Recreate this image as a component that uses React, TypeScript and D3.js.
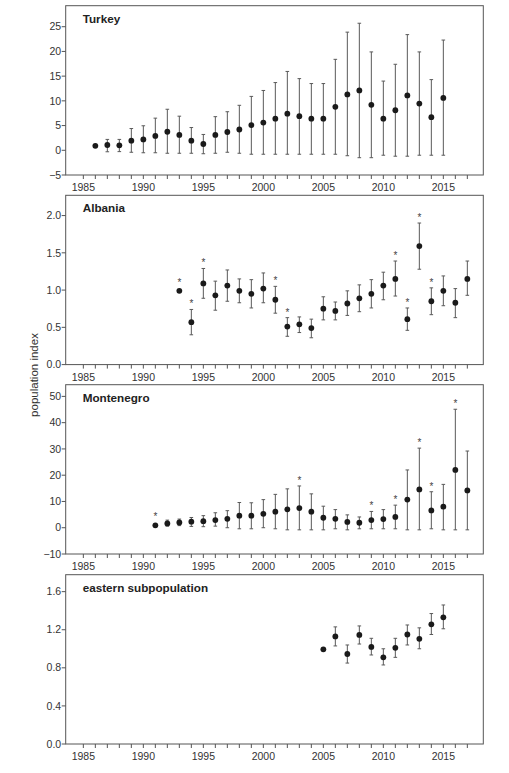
import React from "react";
import * as d3 from "d3";

// ---------- DATA ----------
const turkeyYears = [1986,1987,1988,1989,1990,1991,1992,1993,1994,1995,1996,1997,1998,1999,2000,2001,2002,2003,2004,2005,2006,2007,2008,2009,2010,2011,2012,2013,2014,2015];
const turkeyValues = [0.9,1.07,1.0,1.94,2.2,2.9,3.75,3.1,1.94,1.27,3.1,3.7,4.2,5.1,5.6,6.4,7.4,6.9,6.4,6.4,8.8,11.3,12.1,9.2,6.4,8.1,11.1,9.45,6.7,10.6];
const turkeyUpper = [null,2.2,2.2,4.4,4.96,6.5,8.3,6.9,4.6,3.2,6.8,7.8,9.1,10.9,12.1,13.7,15.95,14.5,13.5,13.5,18.4,23.9,25.7,19.9,14.0,17.4,23.4,19.9,14.3,22.3];
const turkeyLower = [null,-0.3,-0.27,-0.4,-0.5,-0.5,-0.6,-0.6,-0.6,-0.7,-0.6,-0.4,-0.6,-0.8,-0.8,-0.8,-0.8,-0.8,-0.8,-0.8,-0.8,-1.1,-1.5,-1.5,-1.0,-1.2,-1.2,-1.0,-1.0,-1.0];
const turkeyStars: number[] = [];

const albaniaYears = [1993,1994,1995,1996,1997,1998,1999,2000,2001,2002,2003,2004,2005,2006,2007,2008,2009,2010,2011,2012,2013,2014,2015,2016,2017];
const albaniaValues = [0.99,0.57,1.09,0.93,1.06,0.99,0.95,1.02,0.87,0.51,0.54,0.49,0.75,0.72,0.82,0.89,0.95,1.06,1.15,0.61,1.59,0.85,0.99,0.83,1.15];
const albaniaUpper = [null,0.74,1.29,1.12,1.27,1.15,1.14,1.23,1.05,0.63,0.64,0.61,0.91,0.84,0.99,1.07,1.14,1.24,1.39,0.76,1.90,1.03,1.19,1.02,1.39];
const albaniaLower = [null,0.40,0.89,0.73,0.85,0.83,0.76,0.83,0.69,0.38,0.43,0.36,0.60,0.60,0.66,0.71,0.76,0.87,0.92,0.46,1.28,0.67,0.79,0.63,0.93];
const albaniaStars = [1993,1994,1995,2001,2002,2011,2012,2013,2014];

const montenegroYears = [1991,1992,1993,1994,1995,1996,1997,1998,1999,2000,2001,2002,2003,2004,2005,2006,2007,2008,2009,2010,2011,2012,2013,2014,2015,2016,2017];
const montenegroValues = [0.9,1.65,2.0,2.3,2.5,2.9,3.4,4.6,4.6,5.3,6.1,7.0,7.5,6.1,3.8,3.4,2.2,1.9,2.9,3.3,4.1,10.7,14.6,6.6,8.0,22.0,14.2];
const montenegroUpper = [null,2.9,3.3,3.9,4.6,5.7,6.5,9.6,9.5,10.7,12.7,14.8,15.9,12.9,8.2,6.9,4.9,4.1,6.2,6.9,8.6,22.0,30.3,13.7,16.5,45.1,29.2];
const montenegroLower = [null,0.6,0.8,0.5,0.4,0.6,0.0,-0.4,-0.4,0.0,-0.4,-0.8,-0.8,-0.8,-0.8,-0.4,-0.8,-0.4,-0.4,-0.4,-0.4,-0.8,-0.8,-0.4,-0.8,-0.8,-0.8];
const montenegroStars = [1991,2003,2009,2011,2013,2014,2016];

const easternYears = [2005,2006,2007,2008,2009,2010,2011,2012,2013,2014,2015];
const easternValues = [0.994,1.13,0.945,1.145,1.02,0.91,1.01,1.15,1.105,1.257,1.33];
const easternUpper = [null,1.23,1.04,1.24,1.11,1.0,1.11,1.25,1.22,1.37,1.46];
const easternLower = [null,1.03,0.85,1.05,0.935,0.83,0.91,1.04,1.0,1.15,1.21];
const easternStars: number[] = [];

const panelNames = ["Turkey", "Albania", "Montenegro", "eastern subpopulation"];
const turkeyTicks = [-5, 0, 5, 10, 15, 20, 25];
const albaniaTicks = [0.0, 0.5, 1.0, 1.5, 2.0];
const montenegroTicks = [-10, 0, 10, 20, 30, 40, 50];
const easternTicks = [0.0, 0.4, 0.8, 1.2, 1.6];
const xLabelYears = [1985, 1990, 1995, 2000, 2005, 2010, 2015];
const xTickYears = d3.range(1985, 2018);
const yAxisTitle = "population index";

// ---------- LAYOUT ----------
const W = 509, H = 773;
const left = 65.7, right = 483.3;
const panelTops = [5.7, 195.3, 384.7, 574.7];
const panelH = 169.3;
const font = "'Liberation Sans', Arial, Helvetica, sans-serif";
const axisColor = "#555";

const x = d3.scaleLinear().domain([1983.53, 2018.33]).range([left, right]);

type Panel = {
  name: string; years: number[]; values: number[]; upper: (number|null)[]; lower: (number|null)[];
  stars: number[]; ticks: number[]; domain: [number, number]; fmt: (v: number) => string;
};

const panels: Panel[] = [
  { name: panelNames[0], years: turkeyYears, values: turkeyValues, upper: turkeyUpper, lower: turkeyLower, stars: turkeyStars, ticks: turkeyTicks, domain: [-5, 29.25], fmt: d3.format("d") },
  { name: panelNames[1], years: albaniaYears, values: albaniaValues, upper: albaniaUpper, lower: albaniaLower, stars: albaniaStars, ticks: albaniaTicks, domain: [0, 2.272], fmt: d3.format(".1f") },
  { name: panelNames[2], years: montenegroYears, values: montenegroValues, upper: montenegroUpper, lower: montenegroLower, stars: montenegroStars, ticks: montenegroTicks, domain: [-10, 54.45], fmt: d3.format("d") },
  { name: panelNames[3], years: easternYears, values: easternValues, upper: easternUpper, lower: easternLower, stars: easternStars, ticks: easternTicks, domain: [0, 1.778], fmt: d3.format(".1f") },
];

function PanelView({ p, top }: { p: Panel; top: number }) {
  const bottom = top + panelH;
  const y = d3.scaleLinear().domain(p.domain).range([bottom, top]);
  return (
    <g>
      <rect x={left} y={top} width={right - left} height={panelH} fill="white" stroke={axisColor} strokeWidth={1} />
      {p.ticks.map((t) => (
        <g key={"yt" + t}>
          <line x1={left - 4} x2={left} y1={y(t)} y2={y(t)} stroke={axisColor} strokeWidth={1} />
          <text x={left - 4.5} y={y(t)} dy="0.35em" textAnchor="end" fontSize={10.5} fill="#333" fontFamily={font}>{t < 0 ? "\u2212" + p.fmt(-t) : p.fmt(t)}</text>
        </g>
      ))}
      {xTickYears.map((yr) => (
        <line key={"xt" + yr} x1={x(yr)} x2={x(yr)} y1={bottom} y2={bottom + 4} stroke={axisColor} strokeWidth={1} />
      ))}
      {xLabelYears.map((yr) => (
        <text key={"xl" + yr} x={x(yr)} y={bottom + 16} textAnchor="middle" fontSize={10.5} fill="#333" fontFamily={font}>{yr}</text>
      ))}
      <text x={82.7} y={top + 17} fontSize={11.7} fontWeight="bold" fill="#222" fontFamily={font}>{p.name}</text>
      {p.years.map((yr, i) => {
        const up = p.upper[i], lo = p.lower[i];
        const cx = x(yr);
        return (
          <g key={"pt" + yr}>
            {up != null && lo != null && (
              <g stroke="#5a5a5a" strokeWidth={1}>
                <line x1={cx} x2={cx} y1={y(up)} y2={y(lo)} />
                <line x1={cx - 1.8} x2={cx + 1.8} y1={y(up)} y2={y(up)} />
                <line x1={cx - 1.8} x2={cx + 1.8} y1={y(lo)} y2={y(lo)} />
              </g>
            )}
            <circle cx={cx} cy={y(p.values[i])} r={2.9} fill="#1a1a1a" />
            {p.stars.includes(yr) && (
              <text x={cx} y={(up != null ? y(up) : y(p.values[i]) - 3) - 7.5} dy="0.55em" textAnchor="middle" fontSize={10} fill="#444" fontFamily={font}>*</text>
            )}
          </g>
        );
      })}
    </g>
  );
}

export default function App() {
  return (
    <svg width={W} height={H} style={{ position: "absolute", left: 0, top: 0, background: "white" }}>
      <rect x={0} y={0} width={W} height={H} fill="white" />
      {panels.map((p, i) => (
        <PanelView key={p.name} p={p} top={panelTops[i]} />
      ))}
      <text transform={`translate(38.3, 375) rotate(-90)`} textAnchor="middle" fontSize={11.5} fill="#333" fontFamily={font}>{yAxisTitle}</text>
    </svg>
  );
}
